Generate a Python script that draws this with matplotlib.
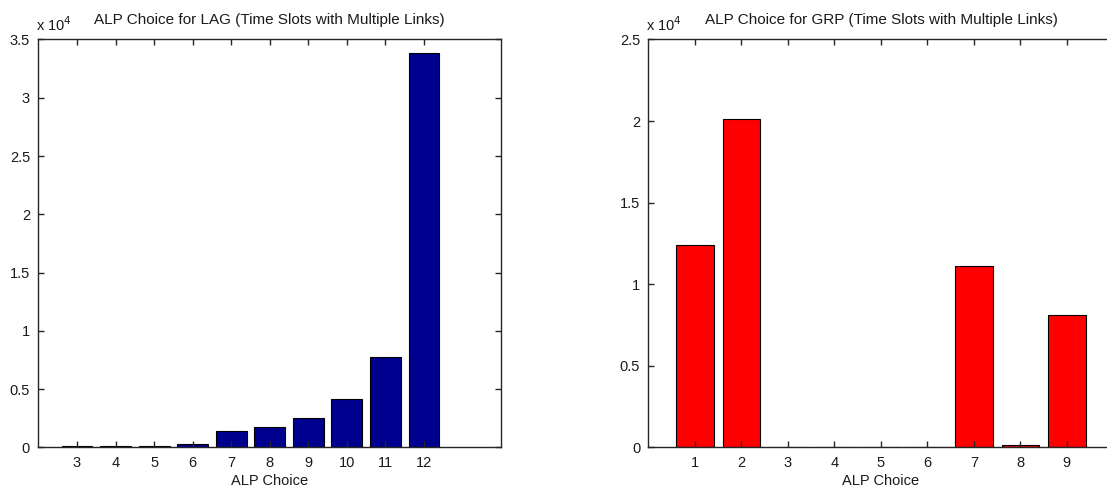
import matplotlib
matplotlib.use('Agg')
import matplotlib.pyplot as plt
import numpy as np

plt.rcParams['font.family'] = ['Liberation Sans', 'DejaVu Sans']
plt.rcParams['font.size'] = 10

# ALP choice counts, time slots with multiple links
lag_choice = [3, 4, 5, 6, 7, 8, 9, 10, 11, 12]
lag_count = [110, 110, 110, 280, 1400, 1800, 2500, 4200, 7800, 33800]

grp_choice = [1, 2, 3, 4, 5, 6, 7, 8, 9]
grp_count = [12380, 20100, 0, 0, 0, 0, 11090, 130, 8090]

scale = 1e4
axis_col = '#262626'


def style_axes(ax, title, yticks, xticks, xlim):
    ax.set_xlim(xlim)
    ax.set_ylim(yticks[0], yticks[-1])
    ax.set_yticks(yticks)
    ax.set_yticklabels(['%g' % v for v in yticks])
    ax.set_xticks(xticks)
    ax.tick_params(direction='in', length=4, width=1, top=True, right=True,
                   colors=axis_col, labelcolor='#1a1a1a', labelsize=10.5, pad=6)
    for s in ax.spines.values():
        s.set_color(axis_col)
        s.set_linewidth(1)
    ax.set_xlabel('ALP Choice', fontsize=10.5, color='#1a1a1a', labelpad=3)
    ax.set_title(title, fontsize=11, color='#1a1a1a', pad=11)
    ax.text(-0.005, 1.014, r'x 10$^{4}$', transform=ax.transAxes,
            fontsize=10.5, color='#1a1a1a', ha='left', va='bottom')


fig = plt.figure(figsize=(11.07, 4.91), dpi=100)

ax1 = fig.add_axes([0.0347, 0.0886, 0.418, 0.831])
ax1.bar(lag_choice, np.array(lag_count) / scale, width=0.8,
        color='#00008f', edgecolor='black', linewidth=0.8)
style_axes(ax1, 'ALP Choice for LAG (Time Slots with Multiple Links)',
           np.arange(0, 3.51, 0.5), lag_choice, (2, 14))

ax2 = fig.add_axes([0.5858, 0.0886, 0.42, 0.831])
ax2.bar(grp_choice, np.array(grp_count) / scale, width=0.8,
        color='#ff0000', edgecolor='black', linewidth=0.8)
style_axes(ax2, 'ALP Choice for GRP (Time Slots with Multiple Links)',
           np.arange(0, 2.51, 0.5), grp_choice, (0, 10))

fig.savefig('out.png', dpi=100)
